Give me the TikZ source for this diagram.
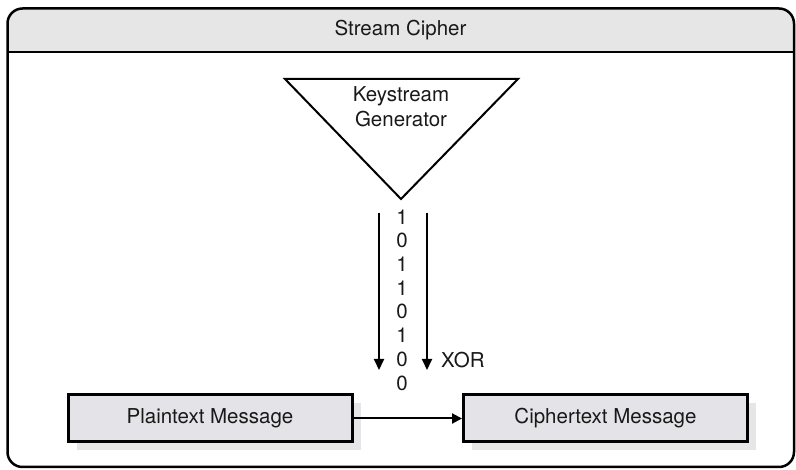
\documentclass[tikz,border=0pt]{standalone}
\usepackage{fontspec}
\setmainfont{TeX Gyre Heros}
\usetikzlibrary{arrows.meta,shadows}
\definecolor{headfill}{HTML}{E6E6E6}
\definecolor{boxfill}{HTML}{E4E4E8}
\definecolor{shadowfill}{HTML}{E6E6E8}
\begin{document}
\begin{tikzpicture}[x=1pt,y=-1pt,
  every node/.style={font=\fontsize{20.5}{25}\selectfont, text=black!90},
  msgbox/.style={draw=black, line width=3pt, fill=boxfill, minimum width=284pt, minimum height=47pt, inner sep=0pt,
    drop shadow={shadow xshift=8.5pt, shadow yshift=-8.5pt, fill=shadowfill, opacity=1}},
  bitarrow/.style={line width=2pt, -{Triangle[length=11pt,width=10pt]}},
  flowarrow/.style={line width=2pt, -{Triangle[length=10pt,width=10pt]}}
]
\useasboundingbox (0,0) rectangle (796,470);
% header band
\fill[headfill] (7.5,52) {[rounded corners=15pt] -- (7.5,8.5) -- (794,8.5)} -- (794,52) -- cycle;
\draw[line width=2.5pt] (7.5,52) -- (794,52);
\draw[line width=2.5pt, rounded corners=15pt] (7.5,8.5) rectangle (794,467);
\node (title) at (400.5,30) {Stream Cipher};
% keystream generator triangle
\coordinate (tl) at (285,79);
\coordinate (tr) at (518,79);
\coordinate (apex) at (401,199);
\draw[line width=2pt, line join=miter] (tl) -- (tr) -- (apex) -- cycle;
\node[align=center] (gen) at (401,107) {Keystream\\Generator};
% bits
\node[align=center, font=\fontsize{20.5}{23.7}\selectfont, inner sep=0pt] (bits) at (402,300)
  {1\\0\\1\\1\\0\\1\\0\\0};
\coordinate (la) at (379,213);
\coordinate (lb) at (379,370);
\coordinate (ra) at (427,213);
\coordinate (rb) at (427,370);
\draw[bitarrow] (la) -- (lb);
\draw[bitarrow] (ra) -- (rb);
\node[anchor=west, inner sep=0pt] (xor) at (441,360) {XOR};
% message boxes
\node[msgbox] (plain) at (210,418.5) {Plaintext Message};
\node[msgbox] (cipher) at (605.5,418.5) {Ciphertext Message};
\draw[flowarrow] (plain.east) -- (cipher.west);
\end{tikzpicture}
\end{document}
